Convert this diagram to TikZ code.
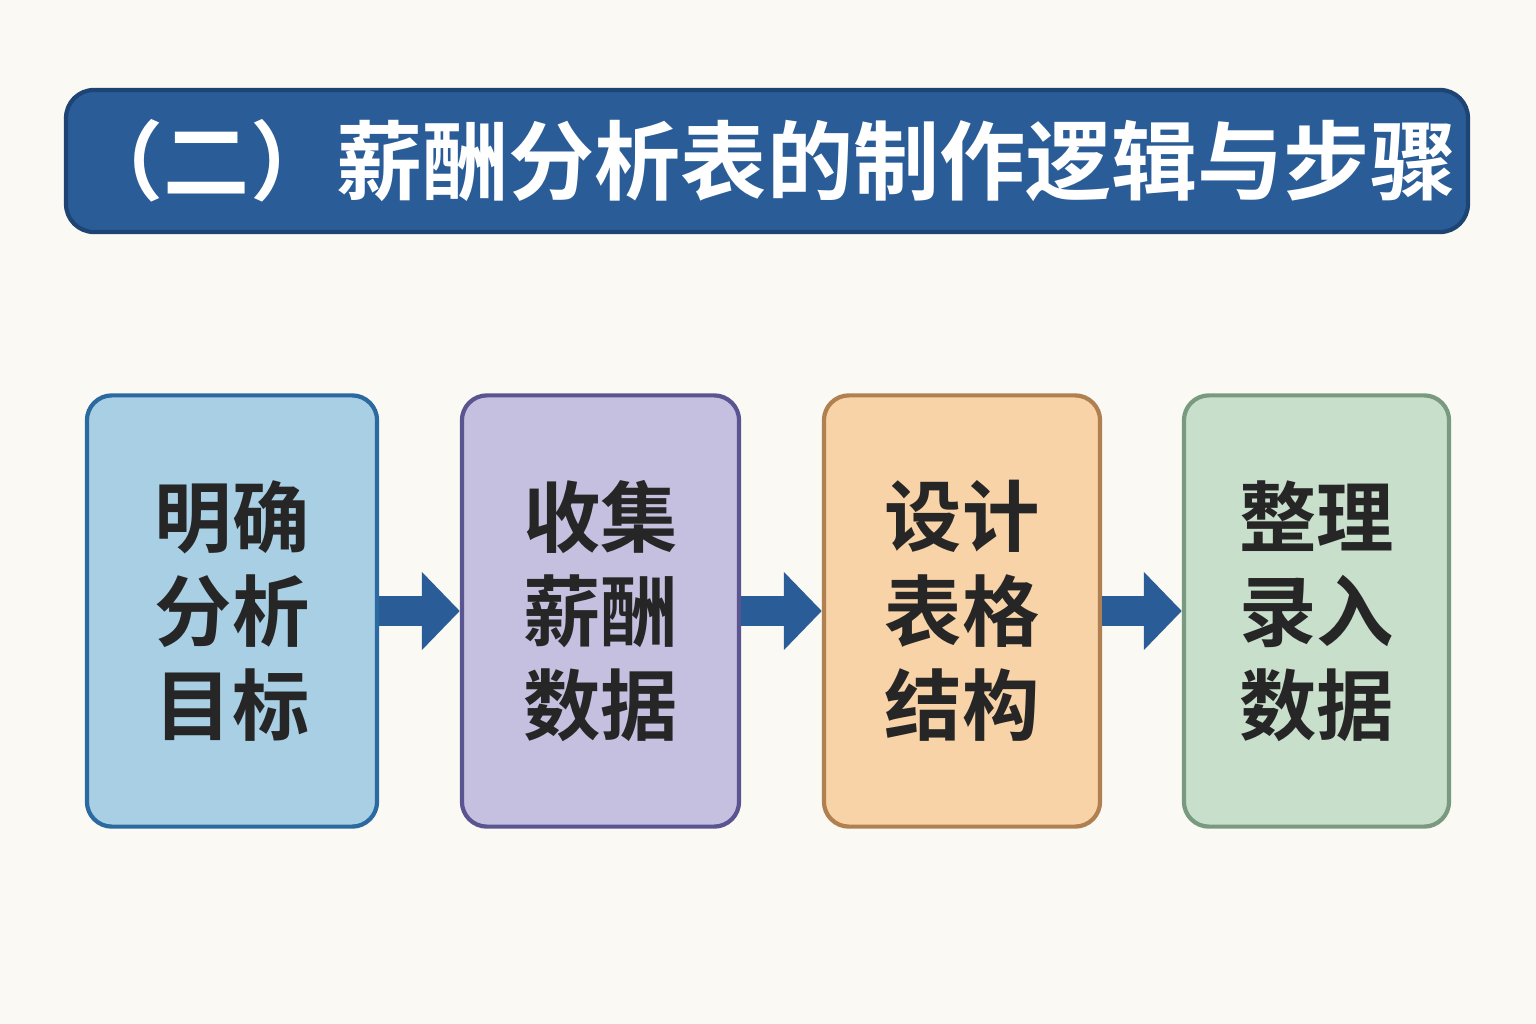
\documentclass[tikz,border=0pt]{standalone}
\usepackage{fontspec}
\newfontfamily\cjk{Noto Sans CJK SC}[BoldFont={* Bold}]
\usetikzlibrary{arrows.meta,positioning}
\definecolor{bgcol}{HTML}{FAF9F4}
\definecolor{navy}{HTML}{2A5D97}
\definecolor{navyline}{HTML}{1E4474}

\begin{document}
\begin{tikzpicture}[x=0.01cm, y=-0.01cm,
  stepbox/.style={draw, line width=1.2pt, rounded corners=0.25cm,
    minimum height=4.31cm, align=center, inner sep=0pt,
    font=\cjk\bfseries\fontsize{22}{26.8}\selectfont, text=black!85},
  flow/.style={draw=navyline, line width=0.3cm, navy,
    -{Triangle[length=0.38cm,width=0.76cm]}}]

% ----------------------
% Canvas
% ----------------------
\fill[bgcol] (0,0) rectangle (1536,1024);
\useasboundingbox (0,0) rectangle (1536,1024);

% ----------------------
% Title bar
% ----------------------
\node[
  draw=navyline, line width=1.2pt, fill=navy,
  rounded corners=0.28cm,
  minimum width=13.61cm, minimum height=1.42cm,
  text=white, font=\cjk\bfseries\fontsize{24.5}{28}\selectfont
] (title) at (767,161)
{（二）薪酬分析表的制作逻辑与步骤};

% ----------------------
% Step boxes
% ----------------------
\node[stepbox, fill={rgb,255:red,169;green,207;blue,229},
  draw={rgb,255:red,42;green,106;blue,160}, minimum width=2.90cm]
  (goal) at (232,611) {明确\\分析\\目标};
\node[stepbox, fill={rgb,255:red,197;green,192;blue,224},
  draw={rgb,255:red,90;green,85;blue,144}, minimum width=2.77cm]
  (collect) at (600.5,611) {收集\\薪酬\\数据};
\node[stepbox, fill={rgb,255:red,248;green,211;blue,168},
  draw={rgb,255:red,176;green,128;blue,80}, minimum width=2.76cm]
  (design) at (962,611) {设计\\表格\\结构};
\node[stepbox, fill={rgb,255:red,200;green,223;blue,204},
  draw={rgb,255:red,122;green,154;blue,128}, minimum width=2.65cm]
  (enter) at (1316.5,611) {整理\\录入\\数据};

% ----------------------
% Flow arrows
% ----------------------
\draw[flow] (goal.east) -- (collect.west);
\draw[flow] (collect.east) -- (design.west);
\draw[flow] (design.east) -- (enter.west);

\end{tikzpicture}
\end{document}
